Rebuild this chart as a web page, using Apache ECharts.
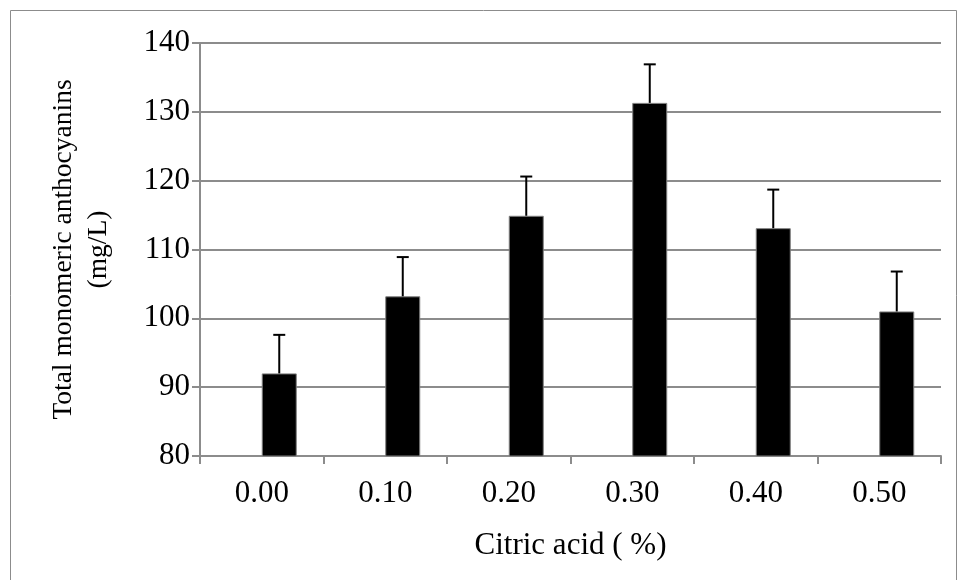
<!DOCTYPE html>
<html>
<head>
<meta charset="utf-8">
<script src="https://cdn.jsdelivr.net/npm/echarts@6/dist/echarts.min.js"></script>
<style>
  html, body { margin: 0; padding: 0; background: #fff; }
  #main { width: 958px; height: 580px; }
</style>
</head>
<body>
<div id="main"></div>
<script>
var chart = echarts.init(document.getElementById('main'));

// data
var categories = ['0.00', '0.10', '0.20', '0.30', '0.40', '0.50'];
var baseline = [80, 80, 80, 80, 80, 80];            // empty first series (drawn as a flat blue line)
var means = [92.0, 103.2, 114.9, 131.3, 113.1, 101.0];
var upper = [97.6, 108.9, 120.6, 136.9, 118.7, 106.8];

var GAP = 0.433; // barCategoryGap
var FONT = 'Liberation Serif';

var errData = means.map(function (m, i) { return [i, m, upper[i]]; });

var option = {
    animation: false,
    textStyle: { fontFamily: FONT },
    graphic: [{
        type: 'rect',
        shape: { x: 10.5, y: 10.5, width: 946, height: 580 },
        style: { fill: 'none', stroke: '#8c8c8c', lineWidth: 1 },
        silent: true
    }],
    grid: { left: 200, right: 17, top: 43, bottom: 124 },
    xAxis: {
        type: 'category',
        data: categories,
        name: 'Citric acid ( %)',
        nameLocation: 'middle',
        nameGap: 74,
        nameTextStyle: { fontFamily: FONT, fontSize: 31, color: '#000' },
        axisLine: { lineStyle: { color: '#8c8c8c', width: 2 } },
        axisTick: { show: true, length: 8, lineStyle: { color: '#8c8c8c', width: 2 } },
        axisLabel: { fontFamily: FONT, fontSize: 31, color: '#000', margin: 22 }
    },
    yAxis: {
        type: 'value',
        min: 80,
        max: 140,
        interval: 10,
        name: 'Total monomeric anthocyanins\n(mg/L)',
        nameLocation: 'middle',
        nameRotate: 90,
        nameGap: 84,
        nameTextStyle: { fontFamily: FONT, fontSize: 27.5, color: '#000', lineHeight: 35 },
        axisLine: { show: true, lineStyle: { color: '#8c8c8c', width: 2 } },
        axisTick: { show: true, length: 8, lineStyle: { color: '#8c8c8c', width: 2 } },
        axisLabel: { fontFamily: FONT, fontSize: 31, color: '#000', margin: 10 },
        splitLine: { lineStyle: { color: '#8c8c8c', width: 2 } }
    },
    series: [{
        type: 'bar',
        data: baseline,
        barGap: '0%',
        barCategoryGap: (GAP * 100) + '%',
        barMinHeight: 1,
        z: 3,
        itemStyle: { color: '#4F81BD' }
    }, {
        type: 'bar',
        data: means,
        barGap: '0%',
        barCategoryGap: (GAP * 100) + '%',
        itemStyle: { color: '#000', borderColor: '#7f7f7f', borderWidth: 1 }
    }, {
        type: 'custom',
        data: errData,
        z: 10,
        renderItem: function (params, api) {
            var band = api.size([1, 0])[0];
            var off = band * (1 - GAP) / 4;
            var p0 = api.coord([api.value(0), api.value(1)]);
            var p1 = api.coord([api.value(0), api.value(2)]);
            var x = p0[0] + off;
            var st = { stroke: '#000', lineWidth: 2 };
            return {
                type: 'group',
                children: [
                    { type: 'line', shape: { x1: x, y1: p0[1], x2: x, y2: p1[1] }, style: st },
                    { type: 'line', shape: { x1: x - 6, y1: p1[1], x2: x + 6, y2: p1[1] }, style: st }
                ]
            };
        }
    }]
};

chart.setOption(option);
</script>
</body>
</html>
